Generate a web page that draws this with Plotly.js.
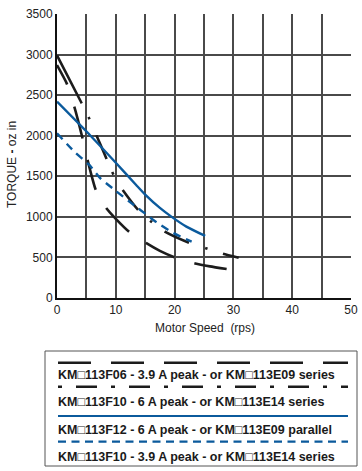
<!DOCTYPE html>
<html>
<head>
<meta charset="utf-8">
<script src="https://cdn.plot.ly/plotly-3.0.1.min.js"></script>
<style>
  html, body { margin: 0; padding: 0; background: #fff; }
  #chart { width: 362px; height: 471px; }
</style>
</head>
<body>
<div id="chart"></div>
<script>
// ---- Data ----
// KM□113F06 - 3.9 A peak (black long dash)
const speedF06 = [0, 1.65, 2.95, 4.35, 5.2, 6.6, 8.4, 10, 12.3, 15.2, 17.5, 20, 23.5, 26, 29];
const torqueF06 = [2870, 2645, 2356, 1966, 1700, 1330, 1105, 975, 813, 675, 580, 500, 425, 390, 355];

// KM□113F10 - 6 A peak (black dash-dot)
const speedF10_6A = [0, 4.2, 5.4, 6.7, 8.4, 9.6, 11, 13.8, 16.1, 18.5, 22.6, 25.3, 28.2, 30.9];
const torqueF10_6A = [2990, 2400, 2225, 2007, 1719, 1520, 1349, 1086, 936, 813, 677, 613, 545, 496];

// KM□113F12 - 6 A peak (blue solid)
const speedF12 = [0, 5.7, 10, 13.5, 15, 17.5, 19.5, 22, 25.2];
const torqueF12 = [2420, 2000, 1667, 1390, 1275, 1110, 1000, 880, 765];

// KM□113F10 - 3.9 A peak (blue dashed)
const speedF10_39A = [0, 3, 5.5, 7.3, 10, 13.4, 15, 16.9, 19.8, 22.9];
const torqueF10_39A = [2030, 1800, 1640, 1480, 1320, 1127, 1040, 935, 800, 695];

const xTickVals = [0, 5, 10, 15, 20, 25, 30, 35, 40, 45, 50];
const xTickText = ['0', '', '10', '', '20', '', '30', '', '40', '', '50'];
const yTickVals = [0, 500, 1000, 1500, 2000, 2500, 3000, 3500];

const legendLabels = [
  'KM\u25A1113F06 - 3.9 A peak - or KM\u25A1113E09 series',
  'KM\u25A1113F10 - 6 A peak - or KM\u25A1113E14 series',
  'KM\u25A1113F12 - 6 A peak - or KM\u25A1113E09 parallel',
  'KM\u25A1113F10 - 3.9 A peak - or KM\u25A1113E14 series'
];

// ---- Styles ----
const BLACK = '#1c1c1c';
const BLUE = '#0b5a9c';
const dashLong = '22px,23px,33px,22px,31px,21px,33px,20px,32px,21px,33px,60px';
const dashDot = '54px,15px,3px,17px,26px,14px,3px,18px,25px,16px,3px,15px,27px,17px,3px,16px,26px,15px,3px,17px,40px';
const dashBlue = '8px,6px';

// geometry helpers (pixel -> paper)
const M = {l: 57, r: 11, t: 14, b: 173};
const W = 362, H = 471;
const pw = W - M.l - M.r, ph = H - M.t - M.b;
const px = x => (x - M.l) / pw;
const py = y => (H - M.b - y) / ph;

const traces = [
  {x: speedF06, y: torqueF06, mode: 'lines', line: {color: BLACK, width: 2.6, dash: dashLong, shape: 'spline', smoothing: 0.5}},
  {x: speedF10_6A, y: torqueF10_6A, mode: 'lines', line: {color: BLACK, width: 2.6, dash: dashDot, shape: 'spline', smoothing: 0.5}},
  {x: speedF12, y: torqueF12, mode: 'lines', line: {color: BLUE, width: 2.4, shape: 'spline', smoothing: 0.6}},
  {x: speedF10_39A, y: torqueF10_39A, mode: 'lines', line: {color: BLUE, width: 2.4, dash: dashBlue, shape: 'spline', smoothing: 0.6}}
];

const legendFont = {family: '"Liberation Sans", Arial, sans-serif', size: 12.5, color: '#1a1a1a', weight: 'bold'};

const rowLineY = [362.7, 386.7, 416, 441.7];
const rowTextY = [375, 401.5, 430, 456.5];
const rowStyles = [
  {color: BLACK, width: 2.6, dash: '33px,20px'},
  {color: BLACK, width: 2.6, dash: '4px,14px,21px,14px'},
  {color: BLUE, width: 2.2, dash: 'solid'},
  {color: BLUE, width: 2.2, dash: '8px,5.5px'}
];

const shapes = [
  {type: 'rect', xref: 'paper', yref: 'paper', x0: px(45), x1: px(357), y0: py(351), y1: py(466),
   line: {color: '#555', width: 1}, fillcolor: 'rgba(0,0,0,0)'}
];
rowLineY.forEach((y, i) => {
  shapes.push({type: 'line', xref: 'paper', yref: 'paper', x0: px(58), x1: px(348), y0: py(y), y1: py(y),
    line: rowStyles[i]});
});

const annotations = legendLabels.map((t, i) => ({
  xref: 'paper', yref: 'paper', x: px(56), y: py(rowTextY[i]), xanchor: 'left', yanchor: 'middle',
  text: t, showarrow: false, font: legendFont
}));
annotations.push({
  xref: 'paper', yref: 'paper', x: px(205), y: py(327.5), xanchor: 'center', yanchor: 'middle',
  text: 'Motor Speed  (rps)', showarrow: false,
  font: {family: '"Liberation Sans", Arial, sans-serif', size: 12, color: '#222'}
});
annotations.push({
  xref: 'paper', yref: 'paper', x: px(12), y: py(165), xanchor: 'center', yanchor: 'middle', textangle: -90,
  text: 'TORQUE <b>-</b> oz in', showarrow: false,
  font: {family: '"Liberation Sans", Arial, sans-serif', size: 12, color: '#222'}
});

const layout = {
  width: W, height: H,
  margin: M,
  paper_bgcolor: '#fff', plot_bgcolor: '#fff',
  showlegend: false,
  font: {family: '"Liberation Sans", Arial, sans-serif', size: 12, color: '#222'},
  xaxis: {
    range: [0, 50], tickvals: xTickVals, ticktext: xTickText,
    showgrid: true, gridcolor: '#4a4a4a', gridwidth: 2,
    showline: true, linecolor: '#111', linewidth: 2, mirror: false,
    zeroline: false, ticks: '', fixedrange: true,
    tickfont: {size: 12, color: '#222'}
  },
  yaxis: {
    range: [0, 3500], tickvals: yTickVals,
    showgrid: true, gridcolor: '#4a4a4a', gridwidth: 2,
    showline: true, linecolor: '#111', linewidth: 2, mirror: false,
    zeroline: false, ticks: '', fixedrange: true,
    tickfont: {size: 12, color: '#222'}
  },
  shapes: shapes,
  annotations: annotations
};

Plotly.newPlot('chart', traces, layout, {displayModeBar: false, staticPlot: true});
</script>
</body>
</html>
